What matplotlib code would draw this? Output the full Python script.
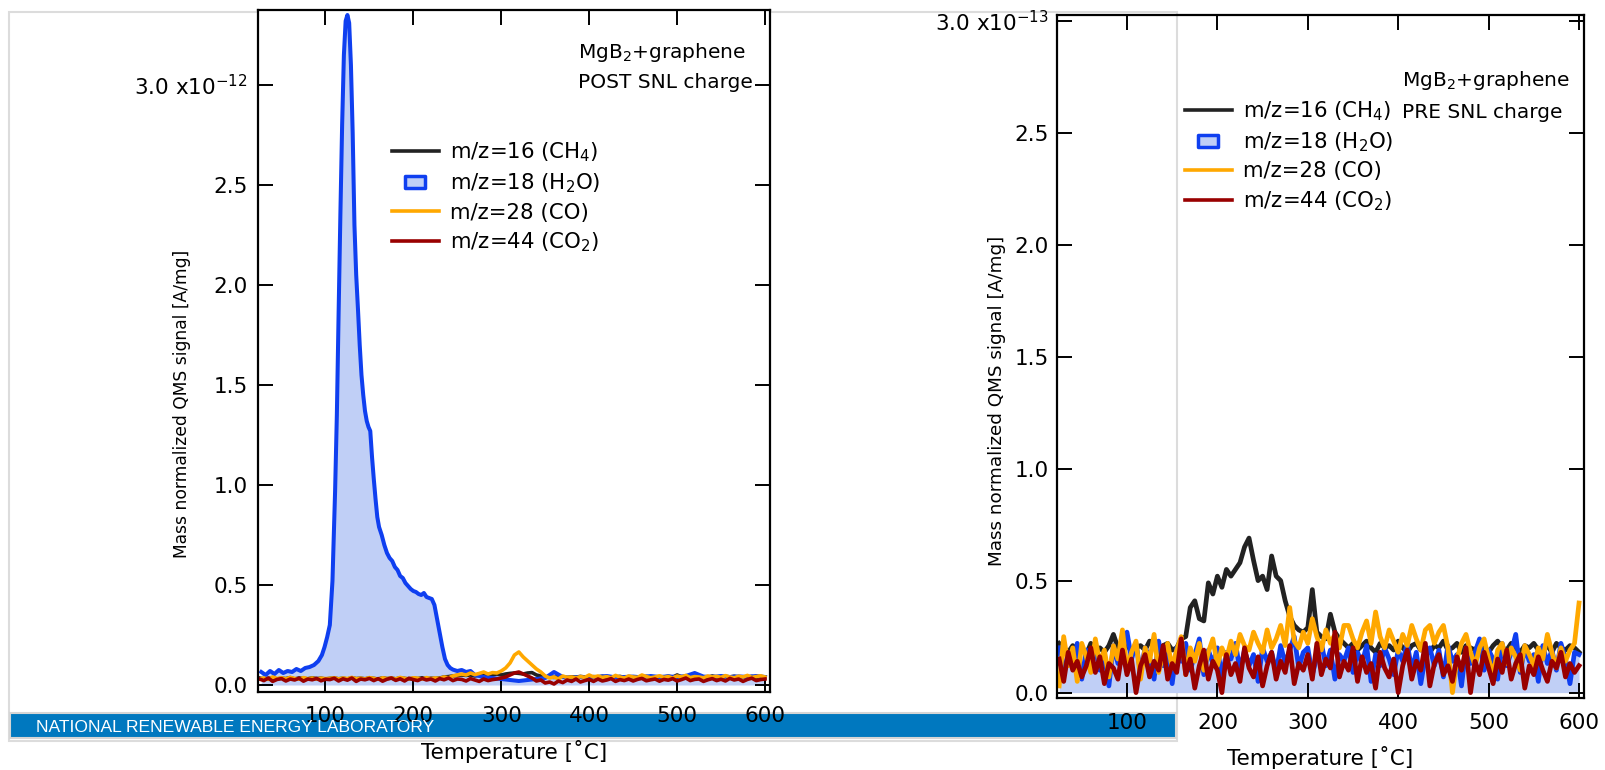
import numpy as np
import matplotlib
matplotlib.use("Agg")
import matplotlib.pyplot as plt
from matplotlib.lines import Line2D
from matplotlib.patches import Rectangle
from matplotlib.path import Path

plt.rcParams['font.family'] = ['DejaVu Sans']
plt.rcParams['mathtext.fontset'] = 'dejavusans'

# ---------------- data ----------------
# common temperature grid (deg C) for the noisy traces
temps = np.arange(25, 601, 5)

# LEFT panel: POST SNL charge, values in units of 1e-12 A/mg
post_ch4 = [0.035,0.03,0.033,0.036,0.03,0.034,0.032,0.037,0.03,0.035,0.033,0.031,0.036,0.032,0.034,0.03,
            0.033,0.035,0.031,0.034,0.03,0.036,0.032,0.034,0.031,0.035,0.033,0.03,0.036,0.032,0.034,0.031,0.035,0.033,0.03,0.034,0.032,0.036,0.031,0.034,0.033,0.035,0.04,0.042,0.045,0.048,
            0.05,0.048,0.05,0.045,0.05,0.048,0.052,0.05,0.055,0.05,0.055,0.058,0.06,0.058,0.055,0.06,0.062,0.05,0.045,0.04,
            0.04,0.038,0.042,0.04,0.037,0.041,0.039,0.043,0.04,0.038,0.042,0.04,0.044,0.039,0.041,0.04,0.043,0.038,0.042,0.04,0.039,0.041,0.043,0.04,0.038,0.042,0.04,0.044,0.039,0.05,0.041,0.04,0.043,0.038,0.042,0.04,0.039,0.045,0.04,0.038,0.042,0.04,0.044,0.039,0.041,0.04,0.043,0.038,0.042,0.04]
post_co = [0.03,0.035,0.028,0.04,0.032,0.036,0.03,0.038,0.033,0.029,0.037,0.031,0.035,0.03,0.034,0.032,
           0.033,0.036,0.03,0.035,0.032,0.038,0.031,0.034,0.03,0.037,0.033,0.029,0.036,0.032,0.035,0.03,0.038,0.033,0.031,0.036,0.034,0.03,0.037,0.032,0.035,0.033,0.04,0.036,0.045,0.05,
           0.055,0.05,0.06,0.052,0.058,0.065,0.055,0.062,0.06,0.07,0.085,0.11,0.15,0.165,0.14,0.12,0.1,0.08,0.065,0.045,
           0.035,0.04,0.03,0.045,0.038,0.04,0.035,0.042,0.038,0.05,0.04,0.045,0.038,0.042,0.036,0.048,0.04,0.035,0.045,0.04,0.038,0.05,0.042,0.036,0.04,0.046,0.038,0.042,0.035,0.045,0.04,0.048,0.037,0.042,0.04,0.036,0.045,0.04,0.043,0.038,0.047,0.04,0.036,0.044,0.04,0.048,0.038,0.042,0.046,0.04]
post_co2 = [0.03,0.022,0.035,0.018,0.028,0.032,0.02,0.03,0.025,0.034,0.019,0.03,0.026,0.033,0.021,0.029,
            0.027,0.034,0.02,0.031,0.024,0.035,0.018,0.03,0.026,0.033,0.022,0.032,0.019,0.029,0.035,0.023,0.031,0.02,0.034,0.027,0.022,0.033,0.025,0.03,0.02,0.032,0.026,0.035,0.022,0.03,
            0.028,0.02,0.032,0.025,0.018,0.03,0.022,0.027,0.03,0.035,0.04,0.05,0.06,0.065,0.055,0.045,0.035,0.02,0.025,0.01,
            0.015,0.005,0.02,0.012,0.025,0.018,0.03,0.015,0.022,0.028,0.018,0.03,0.02,0.025,0.032,0.018,0.027,0.022,0.03,0.02,0.028,0.033,0.021,0.026,0.03,0.019,0.028,0.024,0.032,0.02,0.027,0.035,0.022,0.028,0.03,0.018,0.026,0.032,0.022,0.029,0.02,0.033,0.025,0.03,0.018,0.028,0.034,0.022,0.027,0.03]

post_h2o_temps = [27,32,37,42,47,52,57,62,67,72,77,82,87,92,96,99,102,105,108,111,113,115,117,119,121,123,125,127,129,131,
                  133,135,137,139,141,143,145,147,149,151,153,155,157,159,161,164,167,170,173,176,179,182,185,188,191,194,197,200,
                  203,206,209,212,215,218,221,224,227,230,233,236,239,242,245,250,255,260,265,270,280,290,300,310,320,330,340,
                  350,360,370,380,390,400,410,420,430,440,450,460,470,480,490,500,510,520,530,540,550,560,570,580,590,600]
post_h2o = [0.065,0.05,0.07,0.055,0.075,0.06,0.07,0.065,0.08,0.07,0.085,0.09,0.1,0.12,0.15,0.19,0.24,0.3,0.52,0.97,1.35,1.86,
            2.35,2.8,3.15,3.32,3.35,3.31,3.1,2.76,2.3,2.05,1.88,1.7,1.55,1.45,1.37,1.32,1.29,1.27,1.14,1.03,0.93,0.84,0.79,
            0.75,0.70,0.66,0.635,0.62,0.59,0.575,0.545,0.535,0.51,0.495,0.48,0.47,0.465,0.455,0.45,0.46,0.44,0.435,0.43,
            0.40,0.33,0.26,0.19,0.13,0.10,0.085,0.077,0.07,0.075,0.065,0.07,0.05,0.04,0.035,0.03,0.025,0.02,0.025,0.03,
            0.035,0.065,0.04,0.035,0.04,0.035,0.04,0.045,0.038,0.04,0.042,0.038,0.045,0.04,0.043,0.04,0.045,0.06,0.042,
            0.04,0.045,0.04,0.043,0.04,0.045,0.04]

# RIGHT panel: PRE SNL charge, values in units of 1e-13 A/mg
pre_ch4 = [0.22,0.2,0.18,0.21,0.19,0.2,0.17,0.22,0.19,0.2,0.18,0.21,0.26,0.2,0.19,0.22,0.18,0.2,0.21,0.19,0.23,0.2,0.18,0.21,0.22,0.19,0.2,0.24,
           0.25,0.38,0.41,0.33,0.32,0.49,0.44,0.52,0.47,0.55,0.52,0.55,0.58,0.65,0.69,0.59,0.50,0.52,0.46,0.61,0.52,0.50,0.41,0.34,0.30,0.28,0.27,0.29,0.46,0.27,0.25,0.24,0.35,0.27,0.24,0.22,
           0.2,0.22,0.19,0.21,0.23,0.2,0.18,0.22,0.2,0.21,0.19,0.23,0.2,0.18,0.21,0.22,0.19,0.2,0.18,0.21,0.2,0.23,0.19,0.2,0.22,0.18,0.21,0.2,0.19,0.22,0.2,0.18,0.21,0.23,0.2,0.19,0.22,0.2,0.18,0.21,0.2,0.22,0.19,0.2,0.21,0.18,0.22,0.2,0.19,0.21,0.2,0.18]
pre_h2o = [0.2,0.08,0.18,0.12,0.22,0.06,0.19,0.14,0.2,0.1,0.17,0.03,0.21,0.13,0.19,0.27,0.15,0.22,0.09,0.2,0.16,0.06,0.23,0.12,0.18,0.04,0.2,0.14,
           0.22,0.1,0.17,0.24,0.08,0.19,0.13,0.2,0.07,0.18,0.15,0.22,0.1,0.19,0.12,0.17,0.05,0.2,0.14,0.18,0.09,0.21,0.13,0.19,0.25,0.11,0.18,0.2,0.08,0.16,0.22,0.12,0.19,0.06,0.17,0.14,
           0.2,0.09,0.18,0.13,0.21,0.05,0.17,0.12,0.2,0.15,0.08,0.19,0.14,0.22,0.1,0.18,0.04,0.16,0.2,0.12,0.19,0.07,0.21,0.14,0.17,0.03,0.2,0.13,0.18,0.24,0.1,0.19,0.15,0.06,0.22,0.12,0.18,0.26,0.09,0.2,0.14,0.17,0.05,0.21,0.13,0.19,0.1,0.22,0.15,0.04,0.18,0.17]
pre_co = [0.03,0.25,0.12,0.2,0.05,0.22,0.16,0.09,0.24,0.13,0.19,0.07,0.21,0.15,0.28,0.1,0.18,0.23,0.06,0.2,0.14,0.26,0.09,0.17,0.22,0.11,0.19,0.25,
          0.08,0.2,0.14,0.22,0.1,0.18,0.24,0.12,0.2,0.15,0.23,0.17,0.26,0.21,0.19,0.27,0.22,0.18,0.28,0.2,0.24,0.3,0.21,0.38,0.23,0.2,0.27,0.22,0.33,0.25,0.19,0.28,0.22,0.26,0.2,0.3,
          0.3,0.24,0.2,0.27,0.32,0.22,0.36,0.25,0.2,0.28,0.23,0.18,0.26,0.21,0.3,0.24,0.19,0.28,0.3,0.22,0.27,0.3,0.2,0.0,0.15,0.22,0.26,0.18,0.12,0.2,0.24,0.15,0.08,0.19,0.22,0.13,0.2,0.16,0.1,0.21,0.17,0.12,0.2,0.15,0.26,0.18,0.11,0.2,0.14,0.19,0.22,0.4]
pre_co2 = [0.15,0.05,0.18,0.1,0.14,0.07,0.12,0.2,0.09,0.16,0.04,0.13,0.11,0.06,0.19,0.08,0.15,0.0,0.12,0.17,0.07,0.14,0.1,0.21,0.06,0.13,0.09,0.24,
           0.08,0.15,0.02,0.12,0.19,0.06,0.14,0.1,0.0,0.17,0.08,0.13,0.05,0.2,0.11,0.07,0.16,0.03,0.12,0.18,0.06,0.14,0.09,0.21,0.04,0.13,0.1,0.17,0.06,0.22,0.08,0.15,0.11,0.27,0.07,0.14,
           0.1,0.2,0.05,0.16,0.09,0.13,0.02,0.18,0.11,0.07,0.15,0.0,0.12,0.19,0.06,0.14,0.1,0.22,0.03,0.13,0.17,0.08,0.12,0.05,0.16,0.1,0.2,0.0,0.14,0.08,0.18,0.11,0.04,0.15,0.09,0.19,0.06,0.13,0.17,0.02,0.12,0.08,0.16,0.1,0.05,0.14,0.11,0.18,0.07,0.13,0.09,0.12]

xticks = [100, 200, 300, 400, 500, 600]
yticks = [0.0, 0.5, 1.0, 1.5, 2.0, 2.5, 3.0]
ytick_labels_left = ['0.0', '0.5', '1.0', '1.5', '2.0', '2.5', r'3.0 x10$^{\mathregular{-12}}$']
ytick_labels_right = ['0.0', '0.5', '1.0', '1.5', '2.0', '2.5', r'3.0 x10$^{\mathregular{-13}}$']
legend_labels = ['m/z=16 (CH$_4$)', 'm/z=18 (H$_2$O)', 'm/z=28 (CO)', 'm/z=44 (CO$_2$)']

# ---------------- style ----------------
C_CH4 = '#222222'
C_H2O = '#0f3ff0'
C_FILL = '#c0cff6'
C_CO = '#ffa800'
C_CO2 = '#990000'

W, H = 1605, 770
fig = plt.figure(figsize=(W / 100, H / 100), dpi=100)


def fx(px):
    return px / W


def fy(py):
    return 1 - py / H


# slide frame and NREL bar (behind the charts)
fig.add_artist(Rectangle((fx(9), fy(741)), (1177 - 9) / W, (741 - 12) / H,
                         transform=fig.transFigure, fill=False, ec='#dcdcdc', lw=1.5, zorder=-3))
fig.add_artist(Rectangle((fx(10), fy(738)), (1176 - 10) / W, 25 / H,
                         transform=fig.transFigure, fc='#0078bf', ec='#d5d5d5', lw=1.5, zorder=-2))
fig.text(fx(36), fy(728), 'NATIONAL RENEWABLE ENERGY LABORATORY', color='white', fontsize=12.6,
         family=['Liberation Sans', 'DejaVu Sans'], ha='left', va='center')

axL = fig.add_axes([fx(258), fy(692), (770 - 258) / W, (692 - 10) / H])
axR = fig.add_axes([fx(1057), fy(698), (1584 - 1057) / W, (698 - 15) / H])
axL.set_facecolor('white')
axR.set_facecolor('none')

# left chart
axL.plot(temps, post_ch4, color=C_CH4, lw=2.6)
axL.fill_between(post_h2o_temps, 0, post_h2o, color=C_FILL, lw=0)
axL.plot(post_h2o_temps, post_h2o, color=C_H2O, lw=2.9)
axL.plot(temps, post_co, color=C_CO, lw=2.6)
axL.plot(temps, post_co2, color=C_CO2, lw=2.6)

# right chart
axR.plot(temps, pre_ch4, color=C_CH4, lw=3.4)
axR.fill_between(temps, 0, pre_h2o, color=C_FILL, lw=0)
axR.plot(temps, pre_h2o, color=C_H2O, lw=3.4)
axR.plot(temps, pre_co, color=C_CO, lw=3.4)
axR.plot(temps, pre_co2, color=C_CO2, lw=3.4)

axL.set_xlim(23.3, 605.7)
axL.set_ylim(-0.035, 3.375)
axR.set_xlim(22.6, 605.5)
axR.set_ylim(-0.024, 3.025)

for ax, ylabs, xpad, ypad in ((axL, ytick_labels_left, 10, 7.5), (axR, ytick_labels_right, 10.5, 6)):
    ax.set_xticks(xticks)
    ax.set_xticklabels([str(t) for t in xticks])
    ax.set_yticks(yticks)
    ax.set_yticklabels(ylabs)
    ax.tick_params(direction='in', length=11, width=1.4, top=True, right=True, labelsize=15.5, colors='black')
    ax.tick_params(axis='x', pad=xpad)
    ax.tick_params(axis='y', pad=ypad)
    for s in ax.spines.values():
        s.set_linewidth(1.6)
        s.set_color('black')
    ax.set_xlabel('Temperature [˚C]', fontsize=15.5)

axL.xaxis.set_label_coords(0.5, -0.071)
axR.xaxis.set_label_coords(0.5, -0.071)
axL.set_ylabel('Mass normalized QMS signal [A/mg]', fontsize=12.3)
axR.set_ylabel('Mass normalized QMS signal [A/mg]', fontsize=13.2)
axL.yaxis.set_label_coords(-0.131, 0.422)
axR.yaxis.set_label_coords(-0.097, 0.435)

# legends
rect = Path([(-1, -0.6), (1, -0.6), (1, 0.6), (-1, 0.6), (-1, -0.6)],
            [Path.MOVETO, Path.LINETO, Path.LINETO, Path.LINETO, Path.CLOSEPOLY])


def handles():
    return [Line2D([], [], color=C_CH4, lw=2.6),
            Line2D([], [], ls='none', marker=rect, ms=15, mfc=C_FILL, mec=C_H2O, mew=2.5),
            Line2D([], [], color=C_CO, lw=2.6),
            Line2D([], [], color=C_CO2, lw=2.6)]


leg_kw = dict(loc='upper left', bbox_transform=fig.transFigure, frameon=False, fontsize=15.3,
              handlelength=2.2, handletextpad=0.55, labelspacing=0.36, borderpad=0,
              borderaxespad=0, numpoints=1)
axL.legend(handles(), legend_labels, bbox_to_anchor=(fx(392), fy(140)), **leg_kw)
axR.legend(handles(), legend_labels, bbox_to_anchor=(fx(1185), fy(99)), **leg_kw)

# annotations
ann_kw = dict(fontsize=14.5, ha='left', va='center')
fig.text(fx(578), fy(52), 'MgB$_2$+graphene', **ann_kw)
fig.text(fx(578), fy(82), 'POST SNL charge', **ann_kw)
fig.text(fx(1402), fy(80), 'MgB$_2$+graphene', **ann_kw)
fig.text(fx(1402), fy(112), 'PRE SNL charge', **ann_kw)

fig.savefig('out.png', dpi=100)
